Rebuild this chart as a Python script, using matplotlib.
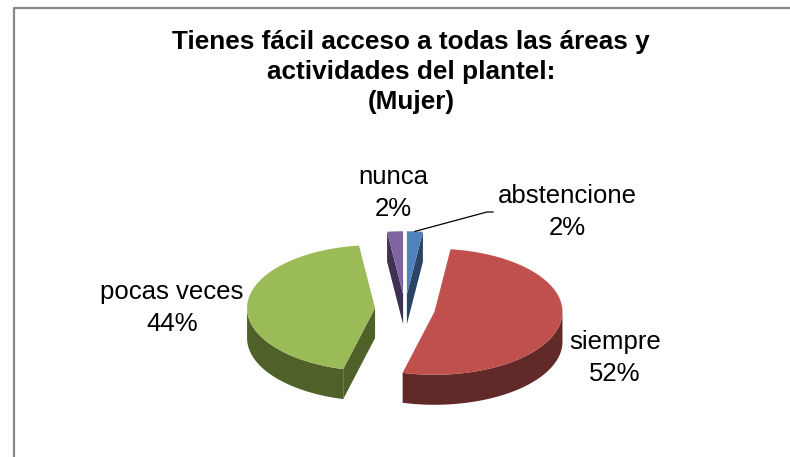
import numpy as np
import matplotlib
matplotlib.use("Agg")
import matplotlib.pyplot as plt
from matplotlib.patches import Polygon

plt.rcParams['font.family'] = ['Liberation Sans', 'DejaVu Sans']

# data (Excel order, clockwise from 12 o'clock)
labels = ["abstencione", "siempre", "pocas veces", "nunca"]
values = [2, 52, 44, 2]
top_colors = ["#4F81BD", "#C0504D", "#9BBB59", "#8064A2"]
side_colors = ["#2B4466", "#622929", "#4F6129", "#3F3154"]
title = "Tienes fácil acceso a todas las áreas y\nactividades del plantel:\n(Mujer)"

# label anchor positions (pixels)
label_pos = [(567, 212), (615, 358), (172, 308), (393, 193)]

# pie geometry (pixels)
CX, CY = 405, 309
RX, RY = 128, 63
DEPTH = 30
EXPLODE = 30

W, H = 790, 457
fig = plt.figure(figsize=(W / 100, H / 100), dpi=100)
ax = fig.add_axes([0, 0, 1, 1])
ax.set_xlim(0, W)
ax.set_ylim(H, 0)
ax.axis('off')

# chart border
ax.plot([14, 14, W], [H, 8, 8], color="#868686", lw=1.6, solid_capstyle='butt')


def rim(cx, cy, a0, a1, n=120):
    th = np.radians(np.linspace(a0, a1, n))
    return cx + RX * np.sin(th), cy - RY * np.cos(th)


total = float(sum(values))
angles = np.concatenate([[0], np.cumsum(values) / total * 360])
slices = []
for i, v in enumerate(values):
    a, b = angles[i], angles[i + 1]
    m = np.radians((a + b) / 2)
    cx = CX + EXPLODE * np.sin(m)
    cy = CY - EXPLODE * (RY / RX) * np.cos(m)
    slices.append((cy, i, a, b, cx))

# back to front
for cy, i, a, b, cx in sorted(slices):
    # radial walls
    for ang, vis in ((a, np.sin(np.radians(a)) < -1e-9), (b, np.sin(np.radians(b)) > 1e-9)):
        if vis:
            ex, ey = rim(cx, cy, ang, ang, 1)
            pts = [(cx, cy), (ex[0], ey[0]), (ex[0], ey[0] + DEPTH), (cx, cy + DEPTH)]
            ax.add_patch(Polygon(pts, closed=True, fc=side_colors[i], ec='none'))
    # outer wall (front half)
    lo, hi = max(a, 90), min(b, 270)
    if hi > lo:
        xs, ys = rim(cx, cy, lo, hi)
        pts = np.column_stack([np.r_[xs, xs[::-1]], np.r_[ys, ys[::-1] + DEPTH]])
        ax.add_patch(Polygon(pts, closed=True, fc=side_colors[i], ec='none'))
    # top face
    xs, ys = rim(cx, cy, a, b)
    pts = np.column_stack([np.r_[cx, xs], np.r_[cy, ys]])
    ax.add_patch(Polygon(pts, closed=True, fc=top_colors[i], ec='none'))

# labels
for i, (lab, v) in enumerate(zip(labels, values)):
    x, y = label_pos[i]
    ax.text(x, y, f"{lab}\n{v / total:.0%}", ha='center', va='center',
            fontsize=18.5, linespacing=1.45, color='black')

# leader line for abstencione
a, b = angles[0], angles[1]
m = np.radians((a + b) / 2)
ccx = CX + EXPLODE * np.sin(m)
ccy = CY - EXPLODE * (RY / RX) * np.cos(m)
lx, ly = rim(ccx, ccy, (a + b) / 2, (a + b) / 2, 1)
ax.plot([lx[0], 487, 493], [ly[0], 212, 212], color='black', lw=0.9)

ax.text(411, 72, title, ha='center', va='center', fontsize=18.8,
        fontweight='bold', linespacing=1.32)

fig.savefig("out.png", dpi=100)
